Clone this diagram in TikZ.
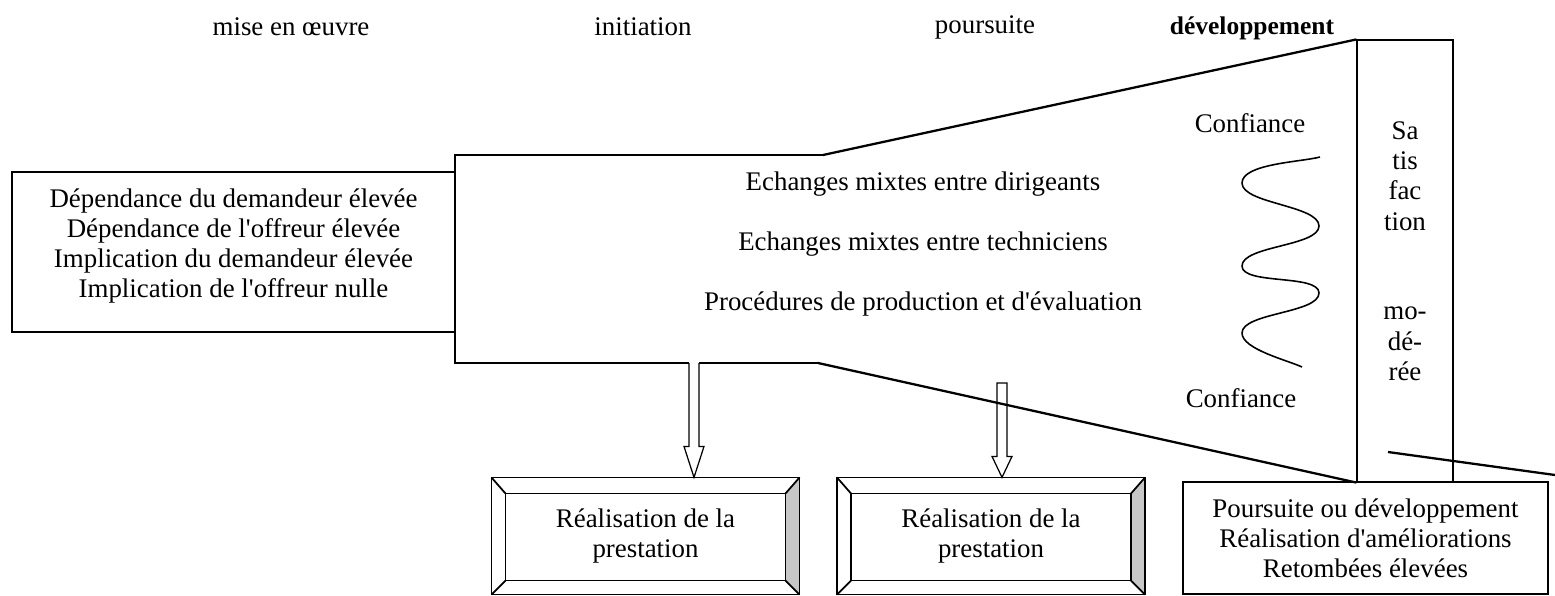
\documentclass[tikz,border=0pt]{standalone}
\usepackage{fontspec}
\setmainfont{Liberation Serif}[Ligatures=TeXOff]
\usetikzlibrary{positioning, calc}

\begin{document}
\begin{tikzpicture}[x=0.02cm, y=-0.02cm, line width=0.7pt, on grid, node distance=1.2cm,
        every node/.style={font=\fontsize{15.3pt}{17.2pt}\selectfont, align=center},
        box/.style={draw, inner sep=0pt},
        bevel/.style={inner sep=0pt, minimum width=6.14cm, minimum height=2.32cm},
        slant/.style={line width=1.3pt}]
        \useasboundingbox (0,0) rectangle (1555,595);

        % phases
        \node (ph1) at (291,27) {mise en œuvre};
        \node (ph2) at (643,27) {initiation};
        \node (ph3) at (985,27) {poursuite};
        \node[font=\fontsize{14.5pt}{16pt}\selectfont\bfseries] (ph4) at (1252,28) {développement};

        \node[box, minimum width=8.86cm, minimum height=3.2cm] (dep) at (233.5,252)
            {Dépendance du demandeur élevée\\Dépendance de l'offreur élevée\\Implication du demandeur élevée\\Implication de l'offreur nulle\\[-0.25cm]};

        \node[box, minimum width=1.92cm, minimum height=8.84cm] (sat) at (1405,261) {};
        \node (sat1) at (1405,176) {Sa\\tis\\fac\\tion};
        \node (sat2) at (1405,344) {mo-\\dé-\\rée};
        \node[box, minimum width=7.3cm, minimum height=2.24cm] (suite) at (1365.5,538)
            {Poursuite ou développement\\Réalisation d'améliorations\\Retombées élevées};

        \node (ech1) at (923,184) {Echanges mixtes entre dirigeants};
        \node (ech2) [below=of ech1] {Echanges mixtes entre techniciens};
        \node (proc) [below=of ech2] {Procédures de production et d'évaluation};

        \node (conf1) at (1250,123) {Confiance};
        \node (conf2) at (1241,398) {Confiance};

        \node[bevel] (real1) at (645.5,536) {Réalisation de la\\prestation};
        \node[bevel] (real2) at (991,536) {Réalisation de la\\prestation};
        \foreach \b in {real1, real2} {
            \fill[black!22] (\b.north east) -- ([shift={(-14,16)}]\b.north east)
                -- ([shift={(-14,-14)}]\b.south east) -- (\b.south east) -- cycle;
            \draw[line width=1pt] (\b.north west) rectangle (\b.south east);
            \draw[line width=1pt] ([shift={(14,16)}]\b.north west) rectangle ([shift={(-14,-14)}]\b.south east);
            \draw[line width=1pt] (\b.north west) -- ([shift={(14,16)}]\b.north west)
                (\b.north east) -- ([shift={(-14,16)}]\b.north east)
                (\b.south west) -- ([shift={(14,-14)}]\b.south west)
                (\b.south east) -- ([shift={(-14,-14)}]\b.south east);
        }

        % canal
        \coordinate (ftl) at (455,155);
        \coordinate (ftm) at (823,155);
        \coordinate (fbl) at (455,363);
        \coordinate (fbm) at (818,363);
        \coordinate (a1) at (694,363);
        \coordinate (a2) at (1002,383);
        \draw (fbm) -- ([xshift=0.1cm]a1);
        \draw ([xshift=-0.1cm]a1) -- (fbl) -- (ftl) -- (ftm);
        \draw[slant] (ftm) -- (sat.north west);
        \draw[slant] (fbm) -- (sat.south west);
        \draw[slant] (1388,452) -- (1555,475);

        \draw let \p1=(a1), \p2=(real1.north -| a1) in
            (\x1-0.1cm,\y1) -- (\x1-0.1cm,\y2+0.62cm) -- (\x1-0.2cm,\y2+0.62cm) -- (\x2,\y2)
            -- (\x1+0.2cm,\y2+0.62cm) -- (\x1+0.1cm,\y2+0.62cm) -- (\x1+0.1cm,\y1);
        \draw let \p1=(a2), \p2=(real2.north -| a2) in
            (\x1-0.1cm,\y1) -- (\x1-0.1cm,\y2+0.42cm) -- (\x1-0.2cm,\y2+0.42cm) -- (\x2,\y2)
            -- (\x1+0.2cm,\y2+0.42cm) -- (\x1+0.1cm,\y2+0.42cm) -- (\x1+0.1cm,\y1) -- cycle;

        % confiance
        \draw[line width=0.9pt, looseness=0.6] (1320,157) to[out=195,in=90] (1242,183)
            to[out=-90,in=90] (1319,226) to[out=-90,in=90] (1242,266)
            to[out=-90,in=90] (1319,293) to[out=-90,in=90] (1242,333)
            to[out=-90,in=155] (1302,367);
\end{tikzpicture}
\end{document}
